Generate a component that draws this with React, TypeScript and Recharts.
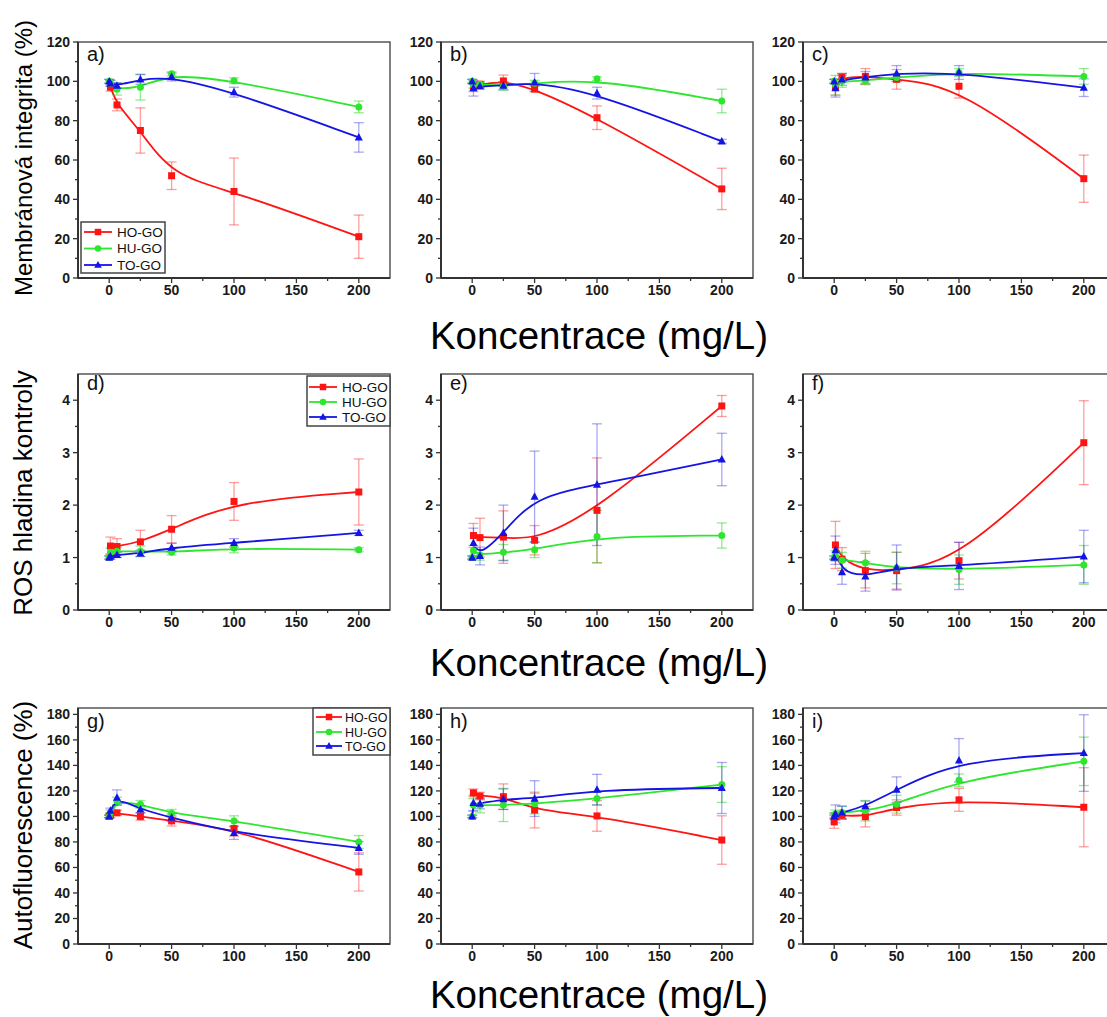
import React from 'react'
import { ComposedChart, Line, XAxis, YAxis, ErrorBar, ReferenceArea } from 'recharts'

// concentrations (mg/L)
const conc = [0, 1, 6.25, 25, 50, 100, 200]
const seriesNames = ['HO-GO', 'HU-GO', 'TO-GO']
const seriesColors = ['#ff1414', '#2ee62e', '#1414e6']
const errColors = ['rgba(255,40,40,0.45)', 'rgba(40,215,40,0.5)', 'rgba(40,40,230,0.4)']
const shapes = ['square', 'circle', 'triangle']

// a) membrane integrity
const aHO = [null, 97, 88, 75, 52, 44, 21]
const aHOerr = [0, 2, 3, 11.5, 7, 17, 11]
const aHU = [100, 99, 96, 97, 103.8, 100.3, 87]
const aHUerr = [1, 1.5, 3, 6.5, 1, 1.5, 3]
const aTO = [100, 99, 97.8, 101, 102.2, 94.5, 71.5]
const aTOerr = [1, 1.5, 1.5, 2.5, 2, 2.5, 7.5]

// b)
const bHO = [null, 96.8, 98.5, 100.2, 96.1, 81.5, 45.3]
const bHOerr = [0, 2, 1.5, 3, 1.5, 6, 10.5]
const bHU = [100, 98, 98.5, 97.5, 99, 101.3, 90]
const bHUerr = [1, 1.5, 1, 2, 1.5, 1, 6]
const bTO = [100, 96.5, 97.5, 97.8, 99.5, 94, 69.5]
const bTOerr = [1, 4, 1.5, 2, 4.5, 3, 1]

// c)
const cHO = [null, 97, 102, 102.5, 101, 97.5, 50.5]
const cHOerr = [0, 4, 2, 4, 5, 6, 12]
const cHU = [100, 98, 100, 100.3, 102, 104.5, 102.5]
const cHUerr = [1, 5, 3, 2, 2, 2, 4]
const cTO = [100, 96.5, 101, 102, 104, 104.5, 96.8]
const cTOerr = [1, 4.5, 3, 3, 4, 3.5, 4.5]

// d) ROS
const dHO = [null, 1.22, 1.21, 1.3, 1.54, 2.07, 2.25]
const dHOerr = [0, 0.17, 0.15, 0.22, 0.26, 0.36, 0.63]
const dHU = [1.0, 1.1, 1.12, 1.12, 1.1, 1.18, 1.15]
const dHUerr = [0.03, 0.08, 0.08, 0.1, 0.05, 0.09, 0.04]
const dTO = [1.0, 1.02, 1.05, 1.08, 1.19, 1.28, 1.47]
const dTOerr = [0.03, 0.05, 0.05, 0.06, 0.08, 0.08, 0.05]

// e)
const eHO = [null, 1.42, 1.38, 1.39, 1.33, 1.9, 3.89]
const eHOerr = [0, 0.23, 0.37, 0.5, 0.28, 1.0, 0.2]
const eHU = [1.0, 1.13, 1.05, 1.1, 1.15, 1.4, 1.42]
const eHUerr = [0.03, 0.1, 0.1, 0.15, 0.15, 0.5, 0.24]
const eTO = [1.0, 1.28, 1.03, 1.47, 2.16, 2.39, 2.87]
const eTOerr = [0.03, 0.28, 0.17, 0.53, 0.87, 1.16, 0.5]

// f)
const fHO = [null, 1.24, 0.97, 0.75, 0.75, 0.94, 3.19]
const fHOerr = [0, 0.45, 0.22, 0.33, 0.35, 0.35, 0.8]
const fHU = [1.0, 1.03, 0.95, 0.9, 0.8, 0.77, 0.86]
const fHUerr = [0.03, 0.1, 0.15, 0.22, 0.3, 0.28, 0.37]
const fTO = [1.0, 1.14, 0.72, 0.64, 0.81, 0.84, 1.02]
const fTOerr = [0.03, 0.27, 0.23, 0.28, 0.43, 0.45, 0.5]

// g) autofluorescence
const gHO = [100, 101, 102.8, 100, 96.5, 90.5, 56.5]
const gHOerr = [1, 2, 2, 3, 4, 6, 15]
const gHU = [100, 103, 112, 109.5, 102.5, 96.5, 80]
const gHUerr = [1, 2, 3, 3, 3, 4, 5]
const gTO = [100, 104.5, 114.8, 105.6, 99, 87, 75.3]
const gTOerr = [1, 2, 6, 3, 3, 5, 5]

// h)
const hHO = [null, 118.5, 116, 115.5, 105, 100.4, 81.5]
const hHOerr = [0, 3, 3, 10, 14, 12, 19]
const hHU = [100, 109, 108.8, 109, 110, 114, 125]
const hHUerr = [1, 5, 6, 13, 8, 5, 14]
const hTO = [100, 110.6, 110, 113.5, 114, 121, 122.3]
const hTOerr = [1, 6, 4, 8, 14, 12, 20]

// i)
const iHO = [95.7, 100, 101, 99.8, 107, 113, 107.2]
const iHOerr = [5, 3, 3, 8, 6, 9, 31]
const iHU = [101, 102, 103, 104.5, 109.6, 128.3, 143.2]
const iHUerr = [2, 3, 5, 8, 7, 5, 19]
const iTO = [100, 102, 103, 108, 121, 144, 149.7]
const iTOerr = [2, 7, 5, 4, 10, 17, 30]

const xMajor = [0, 50, 100, 150, 200]
const xMinor = [25, 75, 125, 175]

const rows = [
  { top: 42, yMax: 120, major: [0, 20, 40, 60, 80, 100, 120], minor: [10, 30, 50, 70, 90, 110], labelDy: 19 },
  { top: 374, yMax: 4.5, major: [0, 1, 2, 3, 4], minor: [0.5, 1.5, 2.5, 3.5], labelDy: 16 },
  { top: 708, yMax: 185, major: [0, 20, 40, 60, 80, 100, 120, 140, 160, 180], minor: [10, 30, 50, 70, 90, 110, 130, 150, 170], labelDy: 20 },
]
const colLefts = [78, 441, 803]
const PW = 312
const PH = 236

const panels = [
  { label: 'a)', row: 0, col: 0, vals: [aHO, aHU, aTO], errs: [aHOerr, aHUerr, aTOerr] },
  { label: 'b)', row: 0, col: 1, vals: [bHO, bHU, bTO], errs: [bHOerr, bHUerr, bTOerr] },
  { label: 'c)', row: 0, col: 2, vals: [cHO, cHU, cTO], errs: [cHOerr, cHUerr, cTOerr] },
  { label: 'd)', row: 1, col: 0, vals: [dHO, dHU, dTO], errs: [dHOerr, dHUerr, dTOerr] },
  { label: 'e)', row: 1, col: 1, vals: [eHO, eHU, eTO], errs: [eHOerr, eHUerr, eTOerr] },
  { label: 'f)', row: 1, col: 2, vals: [fHO, fHU, fTO], errs: [fHOerr, fHUerr, fTOerr] },
  { label: 'g)', row: 2, col: 0, vals: [gHO, gHU, gTO], errs: [gHOerr, gHUerr, gTOerr] },
  { label: 'h)', row: 2, col: 1, vals: [hHO, hHU, hTO], errs: [hHOerr, hHUerr, hTOerr] },
  { label: 'i)', row: 2, col: 2, vals: [iHO, iHU, iTO], errs: [iHOerr, iHUerr, iTOerr] },
]

const FONT = '"Liberation Sans", Arial, sans-serif'

function Marker({ shape, x, y, color, s = 7 }: { shape: string; x: number; y: number; color: string; s?: number }) {
  if (shape === 'square') return <rect x={x - s / 2} y={y - s / 2} width={s} height={s} fill={color} />
  if (shape === 'circle') return <circle cx={x} cy={y} r={s / 2} fill={color} />
  const h = s * 1.05
  return <polygon points={`${x},${y - h * 0.6} ${x - s * 0.58},${y + h * 0.42} ${x + s * 0.58},${y + h * 0.42}`} fill={color} />
}

const makeDot = (shape: string, color: string) => (props: any) => {
  const { cx, cy, index } = props
  if (cx == null || cy == null) return <g key={`d${index}`} />
  return (
    <g key={`d${index}`}>
      <Marker shape={shape} x={cx} y={cy} color={color} />
    </g>
  )
}

const makeYTick = (major: number[]) => (props: any) => {
  const { x, y, payload } = props
  const isMajor = major.includes(payload.value)
  return (
    <g>
      <line x1={x - (isMajor ? 5 : 3)} x2={x} y1={y} y2={y} stroke="#333" strokeWidth={1.3} />
      {isMajor && (
        <text x={x - 8} y={y + 5} textAnchor="end" fontFamily={FONT} fontWeight="bold" fontSize={14} fill="#1a1a1a">
          {payload.value}
        </text>
      )}
    </g>
  )
}

const xTick = (props: any) => {
  const { x, y, payload } = props
  const isMajor = xMajor.includes(payload.value)
  return (
    <g>
      <line x1={x} x2={x} y1={y} y2={y + (isMajor ? 5 : 3)} stroke="#333" strokeWidth={1.3} />
      {isMajor && (
        <text x={x} y={y + 17} textAnchor="middle" fontFamily={FONT} fontWeight="bold" fontSize={14} fill="#1a1a1a">
          {payload.value}
        </text>
      )}
    </g>
  )
}

function Panel({ p }: { p: (typeof panels)[number] }) {
  const row = rows[p.row]
  const left = colLefts[p.col]
  const yTicks = [...row.major, ...row.minor].sort((a, b) => a - b)
  return (
    <div style={{ position: 'absolute', left: left - 60, top: row.top - 10 }}>
      <ComposedChart width={60 + PW + 20} height={10 + PH + 30} margin={{ top: 10, right: 20, bottom: 0, left: 0 }}>
        <XAxis
          type="number"
          dataKey="x"
          domain={[-25, 225]}
          ticks={[...xMajor, ...xMinor].sort((a, b) => a - b)}
          allowDataOverflow
          height={30}
          tickSize={0}
          tickMargin={0}
          tickLine={false}
          tick={xTick}
          axisLine={{ stroke: '#333', strokeWidth: 2 }}
          interval={0}
        />
        <YAxis
          type="number"
          domain={[0, row.yMax]}
          ticks={yTicks}
          allowDataOverflow
          width={60}
          tickSize={0}
          tickMargin={0}
          tickLine={false}
          tick={makeYTick(row.major)}
          axisLine={{ stroke: '#333', strokeWidth: 2 }}
          interval={0}
        />
        <ReferenceArea x1={-25} x2={225} y1={0} y2={row.yMax} fill="none" fillOpacity={0} stroke="#555" strokeWidth={1.5} />
        {p.vals.map((vals, si) => {
          const pts = conc
            .map((x, i) => ({ x, y: vals[i], e: p.errs[si][i] }))
            .filter(d => d.y != null)
          return (
            <Line
              key={seriesNames[si]}
              data={pts}
              dataKey="y"
              type="basis"
              stroke={seriesColors[si]}
              strokeWidth={1.8}
              dot={makeDot(shapes[si], seriesColors[si])}
              activeDot={false}
              isAnimationActive={false}
            >
              <ErrorBar dataKey="e" direction="y" width={5} stroke={errColors[si]} strokeWidth={1.3} />
            </Line>
          )
        })}
      </ComposedChart>
    </div>
  )
}

function LegendBox({ x, y, w, h, rowYs, fontSize, lineX1, lineX2, textX }: any) {
  return (
    <g>
      <rect x={x} y={y} width={w} height={h} fill="#fff" stroke="#444" strokeWidth={1.5} />
      {seriesNames.map((name, i) => (
        <g key={name}>
          <line x1={lineX1} x2={lineX2} y1={rowYs[i]} y2={rowYs[i]} stroke={seriesColors[i]} strokeWidth={1.8} />
          <Marker shape={shapes[i]} x={(lineX1 + lineX2) / 2} y={rowYs[i]} color={seriesColors[i]} s={6.5} />
          <text x={textX} y={rowYs[i] + fontSize * 0.36} fontFamily={FONT} fontSize={fontSize} fill="#111">
            {name}
          </text>
        </g>
      ))}
    </g>
  )
}

export default function App() {
  return (
    <div style={{ position: 'absolute', left: 0, top: 0, width: 1107, height: 1017, overflow: 'hidden', background: '#fff' }}>
      {panels.map(p => (
        <Panel key={p.label} p={p} />
      ))}
      <svg width={1107} height={1017} style={{ position: 'absolute', left: 0, top: 0, pointerEvents: 'none' }}>
        {panels.map(p => (
          <text
            key={p.label}
            x={colLefts[p.col] + 9}
            y={rows[p.row].top + rows[p.row].labelDy}
            fontFamily={FONT}
            fontSize={20}
            fill="#111"
          >
            {p.label}
          </text>
        ))}
        {[349, 676, 1008].map(by => (
          <text key={by} x={599} y={by} textAnchor="middle" fontFamily={FONT} fontSize={38.5} fill="#000">
            Koncentrace (mg/L)
          </text>
        ))}
        <text transform="translate(32,158) rotate(-90)" textAnchor="middle" fontFamily={FONT} fontSize={24} fill="#000">
          Membránová integrita (%)
        </text>
        <text transform="translate(32,493) rotate(-90)" textAnchor="middle" fontFamily={FONT} fontSize={26} fill="#000">
          ROS hladina kontroly
        </text>
        <text transform="translate(32,825) rotate(-90)" textAnchor="middle" fontFamily={FONT} fontSize={26} fill="#000">
          Autofluorescence (%)
        </text>
        <LegendBox x={81} y={222} w={84} h={51} rowYs={[232, 248.5, 265]} fontSize={13.5} lineX1={84} lineX2={112} textX={117} />
        <LegendBox x={307} y={376} w={83} h={50} rowYs={[387, 402, 417]} fontSize={13.5} lineX1={309} lineX2={337} textX={342} />
        <LegendBox x={313} y={708} w={77} h={47} rowYs={[717, 732, 746]} fontSize={12.5} lineX1={316} lineX2={342} textX={345} />
      </svg>
    </div>
  )
}
